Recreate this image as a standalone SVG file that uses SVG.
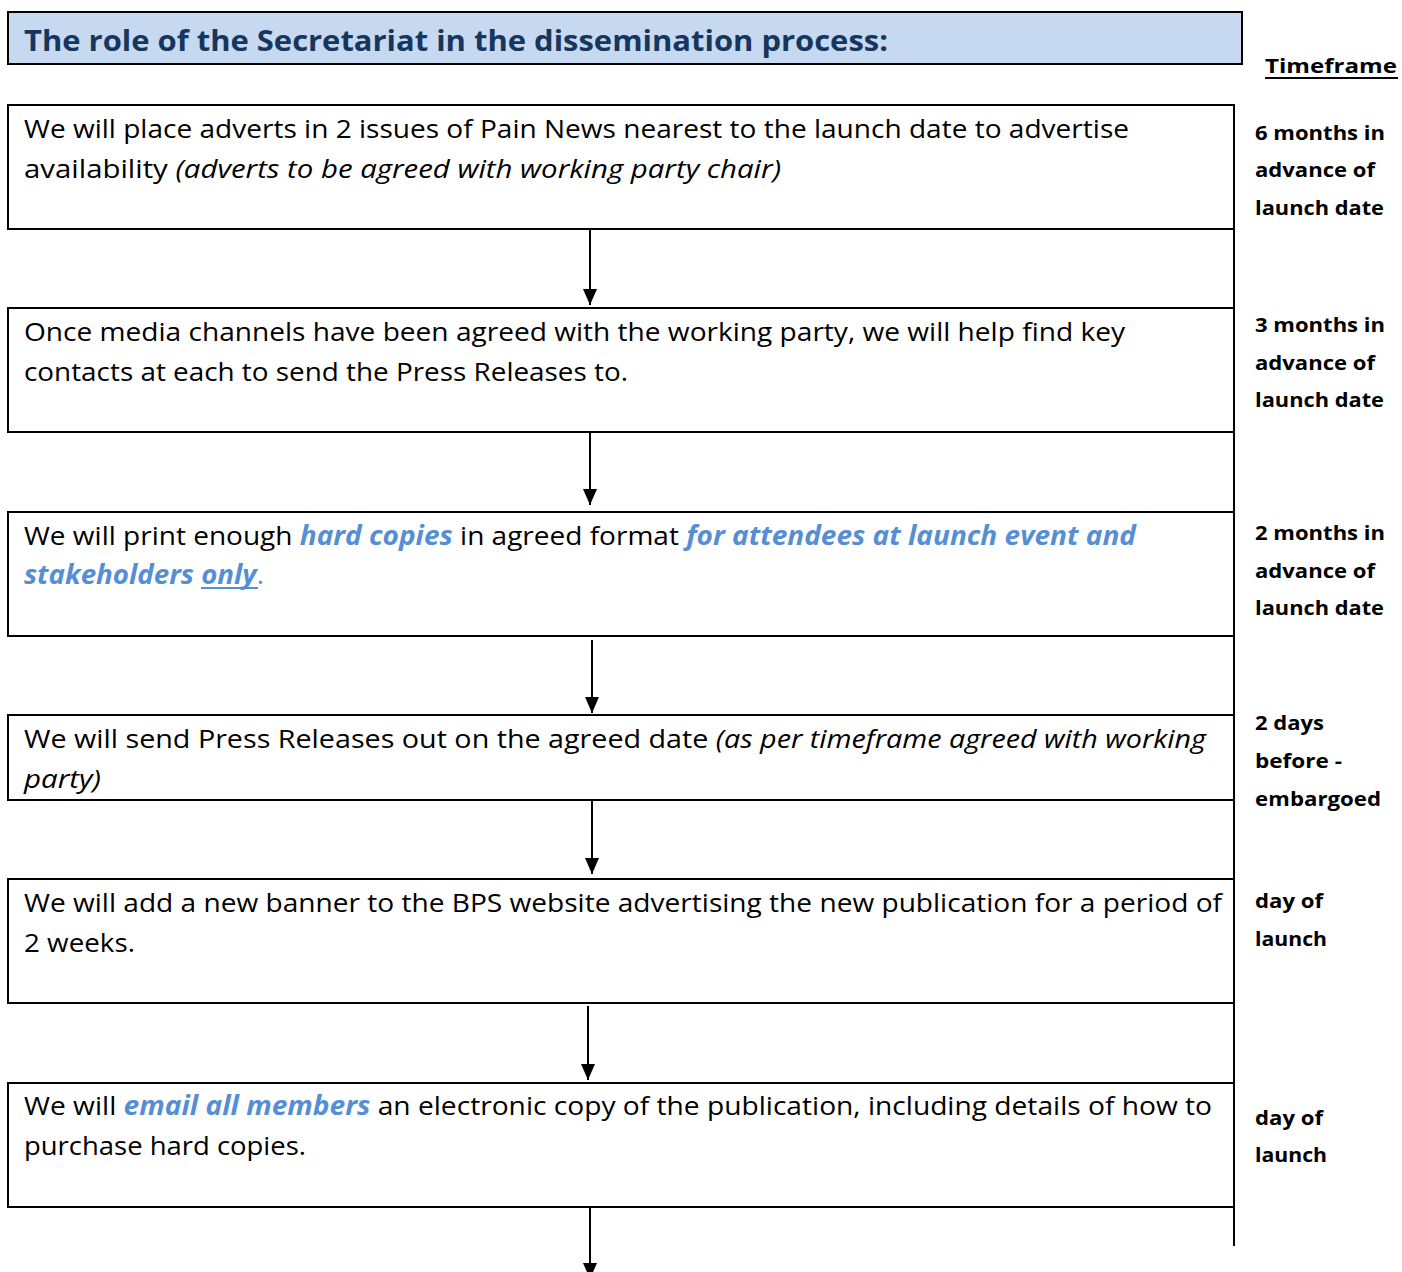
<svg xmlns="http://www.w3.org/2000/svg" width="1402" height="1272" viewBox="0 0 1402 1272">
<style>
.box{fill:#fff;stroke:#000;stroke-width:2}
.body{font-family:"Open Sans","Liberation Sans",sans-serif;font-size:26px;fill:#000}
.it{font-style:italic}
.blue{fill:#558ed5;font-weight:bold;font-style:italic}
.tf{font-family:"Open Sans","Liberation Sans",sans-serif;font-size:20px;font-weight:bold;fill:#000}
.conn{stroke:#000;stroke-width:2;fill:none}
</style>
<defs>
<marker id="ah" markerUnits="userSpaceOnUse" markerWidth="16" markerHeight="14" viewBox="0 0 16 14" refX="16" refY="7" orient="auto">
<path d="M0,0 L16,7 L0,14 Z" fill="#000"/>
</marker>
</defs>
<g id="title">
<rect x="8" y="12" width="1234" height="52" fill="#c6d9f1" stroke="#000" stroke-width="2"/>
<text x="24" y="51" font-family="'Open Sans','Liberation Sans',sans-serif" font-size="29" font-weight="bold" fill="#17365d" textLength="864" lengthAdjust="spacingAndGlyphs">The role of the Secretariat in the dissemination process:</text>
</g>
<g id="timeframe-header">
<text x="1265" y="73" class="tf" font-size="22" textLength="132" lengthAdjust="spacingAndGlyphs">Timeframe</text>
<line x1="1265" y1="78" x2="1398" y2="78" stroke="#000" stroke-width="2"/>
</g>
<g id="node1">
<rect class="box" x="8" y="105" width="1226" height="124"/>
<text class="body" x="24" y="138" textLength="1105" lengthAdjust="spacingAndGlyphs">We will place adverts in 2 issues of Pain News nearest to the launch date to advertise</text>
<text class="body" x="24" y="178" textLength="757" lengthAdjust="spacingAndGlyphs">availability <tspan class="it">(adverts to be agreed with working party chair)</tspan></text>
</g>
<g id="tf1">
<text class="tf" x="1255" y="140" textLength="130" lengthAdjust="spacingAndGlyphs">6 months in</text>
<text class="tf" x="1255" y="177" textLength="120" lengthAdjust="spacingAndGlyphs">advance of</text>
<text class="tf" x="1255" y="215" textLength="129" lengthAdjust="spacingAndGlyphs">launch date</text>
</g>
<g id="node2">
<rect class="box" x="8" y="308" width="1226" height="124"/>
<text class="body" x="24" y="341" textLength="1101" lengthAdjust="spacingAndGlyphs">Once media channels have been agreed with the working party, we will help find key</text>
<text class="body" x="24" y="381" textLength="604" lengthAdjust="spacingAndGlyphs">contacts at each to send the Press Releases to.</text>
</g>
<g id="tf2">
<text class="tf" x="1255" y="332" textLength="130" lengthAdjust="spacingAndGlyphs">3 months in</text>
<text class="tf" x="1255" y="370" textLength="120" lengthAdjust="spacingAndGlyphs">advance of</text>
<text class="tf" x="1255" y="407" textLength="129" lengthAdjust="spacingAndGlyphs">launch date</text>
</g>
<g id="node3">
<rect class="box" x="8" y="512" width="1226" height="124"/>
<text class="body" x="24" y="545" textLength="1112" lengthAdjust="spacingAndGlyphs">We will print enough <tspan class="blue">hard copies</tspan> in agreed format <tspan class="blue">for attendees at launch event and</tspan></text>
<text class="body" x="24" y="584" textLength="240" lengthAdjust="spacingAndGlyphs"><tspan class="blue">stakeholders only</tspan><tspan fill="#558ed5">.</tspan></text>
<line x1="201" y1="588" x2="258" y2="588" stroke="#558ed5" stroke-width="2"/>
</g>
<g id="tf3">
<text class="tf" x="1255" y="540" textLength="130" lengthAdjust="spacingAndGlyphs">2 months in</text>
<text class="tf" x="1255" y="578" textLength="120" lengthAdjust="spacingAndGlyphs">advance of</text>
<text class="tf" x="1255" y="615" textLength="129" lengthAdjust="spacingAndGlyphs">launch date</text>
</g>
<g id="node4">
<rect class="box" x="8" y="715" width="1226" height="85"/>
<text class="body" x="24" y="748" textLength="1182" lengthAdjust="spacingAndGlyphs">We will send Press Releases out on the agreed date <tspan class="it">(as per timeframe agreed with working</tspan></text>
<text class="body it" x="24" y="788" textLength="77" lengthAdjust="spacingAndGlyphs">party)</text>
</g>
<g id="tf4">
<text class="tf" x="1255" y="730" textLength="69" lengthAdjust="spacingAndGlyphs">2 days</text>
<text class="tf" x="1255" y="768" textLength="87" lengthAdjust="spacingAndGlyphs">before -</text>
<text class="tf" x="1255" y="806" textLength="126" lengthAdjust="spacingAndGlyphs">embargoed</text>
</g>
<g id="node5">
<rect class="box" x="8" y="879" width="1226" height="124"/>
<text class="body" x="24" y="912" textLength="1198" lengthAdjust="spacingAndGlyphs">We will add a new banner to the BPS website advertising the new publication for a period of</text>
<text class="body" x="24" y="952" textLength="111" lengthAdjust="spacingAndGlyphs">2 weeks.</text>
</g>
<g id="tf5">
<text class="tf" x="1255" y="908" textLength="68" lengthAdjust="spacingAndGlyphs">day of</text>
<text class="tf" x="1255" y="946" textLength="72" lengthAdjust="spacingAndGlyphs">launch</text>
</g>
<g id="node6">
<rect class="box" x="8" y="1083" width="1226" height="124"/>
<text class="body" x="24" y="1115" textLength="1188" lengthAdjust="spacingAndGlyphs">We will <tspan class="blue">email all members</tspan> an electronic copy of the publication, including details of how to</text>
<text class="body" x="24" y="1155" textLength="282" lengthAdjust="spacingAndGlyphs">purchase hard copies.</text>
</g>
<g id="tf6">
<text class="tf" x="1255" y="1125" textLength="68" lengthAdjust="spacingAndGlyphs">day of</text>
<text class="tf" x="1255" y="1162" textLength="72" lengthAdjust="spacingAndGlyphs">launch</text>
</g>
<g id="connectors">
<line x1="1234" y1="105" x2="1234" y2="1246" stroke="#000" stroke-width="2"/>
<line class="conn" x1="590" y1="230" x2="590" y2="305" marker-end="url(#ah)"/>
<line class="conn" x1="590" y1="432" x2="590" y2="505" marker-end="url(#ah)"/>
<line class="conn" x1="592" y1="640" x2="592" y2="713" marker-end="url(#ah)"/>
<line class="conn" x1="592" y1="801" x2="592" y2="874" marker-end="url(#ah)"/>
<line class="conn" x1="588" y1="1006" x2="588" y2="1080" marker-end="url(#ah)"/>
<line class="conn" x1="590" y1="1207" x2="590" y2="1279" marker-end="url(#ah)"/>
</g>
</svg>
